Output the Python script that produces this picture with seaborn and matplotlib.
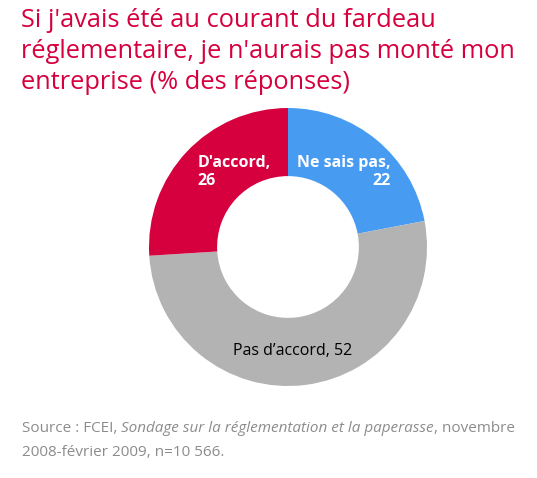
import matplotlib
matplotlib.use("Agg")
import matplotlib.pyplot as plt
import seaborn as sns

# data
labels = ["Ne sais pas,\n22", "Pas d\u2019accord, 52", "D'accord,\n26"]
values = [22, 52, 26]
colors = ["#479CF2", "#B3B3B3", "#D6003F"]

title_lines = ["Si j'avais été au courant du fardeau",
               "réglementaire, je n'aurais pas monté mon",
               "entreprise (% des réponses)"]

sns.set_theme(style="white")
plt.rcParams['font.family'] = ['Open Sans', 'DejaVu Sans']

W, H = 537, 478
fig = plt.figure(figsize=(W / 100, H / 100), dpi=100)

cx, cy, r = 288, 247, 139
ax = fig.add_axes([(cx - r) / W, (H - cy - r) / H, 2 * r / W, 2 * r / H])
ax.pie(values, colors=colors, startangle=90, counterclock=False,
       wedgeprops=dict(width=0.49, linewidth=0))
ax.set_xlim(-1, 1)
ax.set_ylim(-1, 1)
ax.axis('off')

ax.text(0.74, 0.54, labels[0], ha='right', va='center', color='white',
        fontsize=11.5, fontweight='bold', linespacing=1.2)
ax.text(0.03, -0.75, labels[1], ha='center', va='center', color='black',
        fontsize=11.5)
ax.text(-0.65, 0.54, labels[2], ha='left', va='center', color='white',
        fontsize=11.5, fontweight='bold', linespacing=1.2)

# title, one line at a time
for i, line in enumerate(title_lines):
    fig.text(21 / W, 1 - (27 + 31 * i) / H, line, ha='left', va='baseline',
             color="#D6003F", fontsize=18.3)

# source with italic part
grey = "#8C8C8C"
fig.canvas.draw()
renderer = fig.canvas.get_renderer()
x0 = 22 / W
y1 = 1 - 432 / H
parts = [("Source : FCEI, ", 'normal'),
         ("Sondage sur la réglementation et la paperasse", 'italic'),
         (", novembre", 'normal')]
x = x0
for txt, st in parts:
    t = fig.text(x, y1, txt, ha='left', va='baseline', color=grey,
                 fontsize=11, style=st)
    bb = t.get_window_extent(renderer)
    x += bb.width / W
fig.text(x0, 1 - 456 / H, "2008-février 2009, n=10 566.", ha='left',
         va='baseline', color=grey, fontsize=11)

fig.savefig("out.png", dpi=100)
